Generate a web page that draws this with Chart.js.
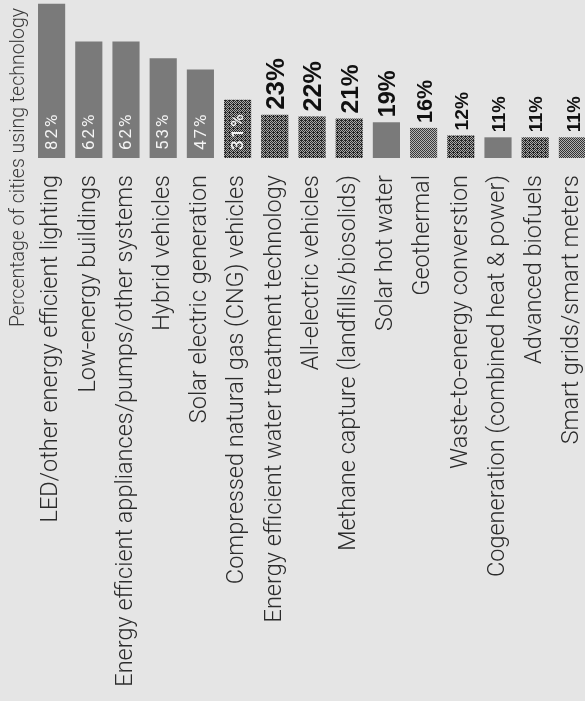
<!DOCTYPE html>
<html><head><meta charset="utf-8">
<script src="https://cdn.jsdelivr.net/npm/chart.js@4.4.1/dist/chart.umd.min.js"></script>
<style>
html,body{margin:0;padding:0;background:#e5e5e5;overflow:hidden;width:585px;height:701px}
#wrap{position:absolute;left:0;top:0;width:591px;height:701px}
</style></head><body>
<div id="wrap"><canvas id="c" width="591" height="701"></canvas></div>
<script>
// ---- data ----
const categories = [
  'LED/other energy efficient lighting',
  'Low-energy buildings',
  'Energy efficient appliances/pumps/other systems',
  'Hybrid vehicles',
  'Solar electric generation',
  'Compressed natural gas (CNG) vehicles',
  'Energy efficient water treatment technology',
  'All-electric vehicles',
  'Methane capture (landfills/biosolids)',
  'Solar hot water',
  'Geothermal',
  'Waste-to-energy converstion',
  'Cogeneration (combined heat & power)',
  'Advanced biofuels',
  'Smart grids/smart meters'
];
const values = [82, 62, 62, 53, 47, 31, 23, 22, 21, 19, 16, 12, 11, 11, 11];
const valueLabels = values.map(v => v + '%');
const axisTitle = 'Percentage of cities using technology';

// ---- styles ----
const fillKinds = ['solid','solid','solid','solid','solid','dark','dark','dark','dark','solid','light','dark','solid','dark','mid'];

const bayer = [[0,8,2,10],[12,4,14,6],[3,11,1,9],[15,7,13,5]];
function dither(darkFrac, dark, light) {
  const c = document.createElement('canvas');
  c.width = 4; c.height = 4;
  const g = c.getContext('2d');
  for (let y = 0; y < 4; y++) for (let x = 0; x < 4; x++) {
    g.fillStyle = bayer[y][x] < darkFrac * 16 ? dark : light;
    g.fillRect(x, y, 1, 1);
  }
  return g.createPattern(c, 'repeat');
}
const fills = {
  solid: '#7a7a7a',
  dark: dither(0.56, '#262626', '#a8a8a8'),
  mid: dither(0.5, '#333333', '#b0b0b0'),
  light: dither(0.44, '#3a3a3a', '#b4b4b4')
};
const barColors = fillKinds.map(k => fills[k]);

const labelPlugin = {
  id: 'labels',
  afterDatasetsDraw(chart) {
    const ctx = chart.ctx;
    const meta = chart.getDatasetMeta(0);
    meta.data.forEach((bar, i) => {
      const v = values[i];
      ctx.save();
      if (v >= 30) {
        ctx.translate(bar.x + 1, bar.base - 8);
        ctx.rotate(-Math.PI / 2);
        ctx.font = (fillKinds[i] === 'dark' ? '500 ' : '400 ') + '17px Roboto';
        ctx.letterSpacing = '2px';
        ctx.fillStyle = '#f4f4f4';
        ctx.textAlign = 'left';
        ctx.textBaseline = 'middle';
        ctx.fillText(valueLabels[i], 0, 0);
      } else {
        const size = 12 + 0.6 * v;
        ctx.translate(bar.x + 2, bar.y - 5);
        ctx.rotate(-Math.PI / 2);
        ctx.font = 'bold ' + size.toFixed(1) + 'px "Liberation Sans Narrow", "Liberation Sans", Arial, sans-serif';
        ctx.fillStyle = '#111111';
        ctx.textAlign = 'left';
        ctx.textBaseline = 'middle';
        ctx.fillText(valueLabels[i], 0, 0);
      }
      ctx.restore();
    });
    // axis title
    ctx.save();
    ctx.translate(19, 8);
    ctx.rotate(-Math.PI / 2);
    ctx.font = '300 19.5px Roboto';
    ctx.fillStyle = '#3a3a3a';
    ctx.textAlign = 'right';
    ctx.textBaseline = 'middle';
    ctx.fillText(axisTitle, 0, 0);
    ctx.restore();
  }
};

new Chart(document.getElementById('c'), {
  type: 'bar',
  data: {
    labels: categories,
    datasets: [{
      data: values,
      backgroundColor: barColors,
      borderWidth: 0,
      categoryPercentage: 1,
      barPercentage: 0.73
    }]
  },
  options: {
    responsive: false,
    animation: false,
    layout: { padding: { left: 33, right: 0, top: 0, bottom: 0 } },
    plugins: { legend: { display: false }, tooltip: { enabled: false } },
    scales: {
      y: { display: false, min: 0, max: 84 },
      x: {
        offset: true,
        grid: { display: false, drawTicks: false },
        border: { display: false },
        afterFit: s => { s.height = 543; s.paddingLeft = 0; s.paddingRight = 0; },
        ticks: {
          autoSkip: false,
          minRotation: 90,
          maxRotation: 90,
          padding: 17,
          color: '#2b2b2b',
          font: { family: 'Roboto', weight: '300', size: 23.5 }
        }
      }
    }
  },
  plugins: [labelPlugin]
});
</script>
</body></html>
